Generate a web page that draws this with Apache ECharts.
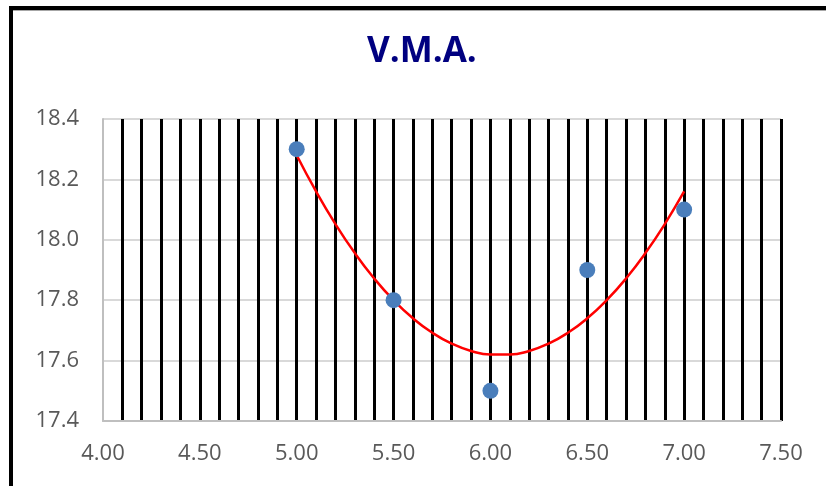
<!DOCTYPE html>
<html>
<head>
<meta charset="utf-8">
<script src="https://cdn.jsdelivr.net/npm/echarts@6/dist/echarts.min.js"></script>
<style>
  html, body { margin: 0; padding: 0; background: #fff; }
  #chart { width: 826px; height: 486px; }
</style>
</head>
<body>
<div id="chart"></div>
<script>
// Measured points
const xValues = [5.0, 5.5, 6.0, 6.5, 7.0];
const yValues = [18.3, 17.8, 17.5, 17.9, 18.1];

// Trend curve
const trendX = [5.0, 5.1, 5.2, 5.3, 5.4, 5.5, 5.6, 5.7, 5.8, 5.9, 6.0, 6.1, 6.2, 6.3, 6.4, 6.5, 6.6, 6.7, 6.8, 6.9, 7.0];
const trendY = [18.28, 18.16, 18.052, 17.956, 17.872, 17.80, 17.74, 17.692, 17.656, 17.632, 17.62, 17.62, 17.632, 17.656, 17.692, 17.74, 17.80, 17.872, 17.956, 18.052, 18.16];

const titleText = 'V.M.A.';

const chart = echarts.init(document.getElementById('chart'));
const labelFont = { color: '#595959', fontSize: 22, fontFamily: 'Open Sans' };

chart.setOption({
  animation: false,
  backgroundColor: '#fff',
  title: {
    text: titleText,
    left: 362,
    top: 30,
    textStyle: { color: '#000080', fontSize: 35, fontWeight: 'bold', fontFamily: 'Open Sans' }
  },
  grid: { left: 103, right: 45, top: 119, bottom: 65, containLabel: false },
  xAxis: {
    type: 'value',
    min: 4.0, max: 7.5, interval: 0.5,
    axisLine: { show: true, lineStyle: { color: '#bfbfbf', width: 2 } },
    axisTick: { show: false },
    minorTick: { show: false, splitNumber: 5 },
    axisLabel: Object.assign({ margin: 22, formatter: v => v.toFixed(2) }, labelFont),
    splitLine: { show: true, showMinLine: false, lineStyle: { color: '#000', width: 3 } },
    minorSplitLine: { show: true, lineStyle: { color: '#000', width: 3 } }
  },
  yAxis: {
    type: 'value',
    min: 17.4, max: 18.4, interval: 0.2,
    axisLine: { show: true, lineStyle: { color: '#bfbfbf', width: 2 } },
    axisTick: { show: false },
    axisLabel: Object.assign({ margin: 24, formatter: v => v.toFixed(1) }, labelFont),
    splitLine: { show: true, lineStyle: { color: '#d9d9d9', width: 2 } }
  },
  graphic: [
    { type: 'rect', shape: { x: 9, y: 6, width: 817, height: 4 }, style: { fill: '#000' } },
    { type: 'rect', shape: { x: 9, y: 10, width: 817, height: 1 }, style: { fill: '#a6a6a6' } },
    { type: 'rect', shape: { x: 9, y: 6, width: 4, height: 480 }, style: { fill: '#000' } }
  ],
  series: [
    {
      type: 'line',
      data: trendX.map((x, i) => [x, trendY[i]]),
      smooth: true,
      showSymbol: false,
      lineStyle: { color: '#ff0000', width: 2.5 },
      z: 3
    },
    {
      type: 'scatter',
      data: xValues.map((x, i) => [x, yValues[i]]),
      symbolSize: 16,
      itemStyle: { color: '#4a7ebb', opacity: 1 },
      z: 4
    }
  ]
});
</script>
</body>
</html>
